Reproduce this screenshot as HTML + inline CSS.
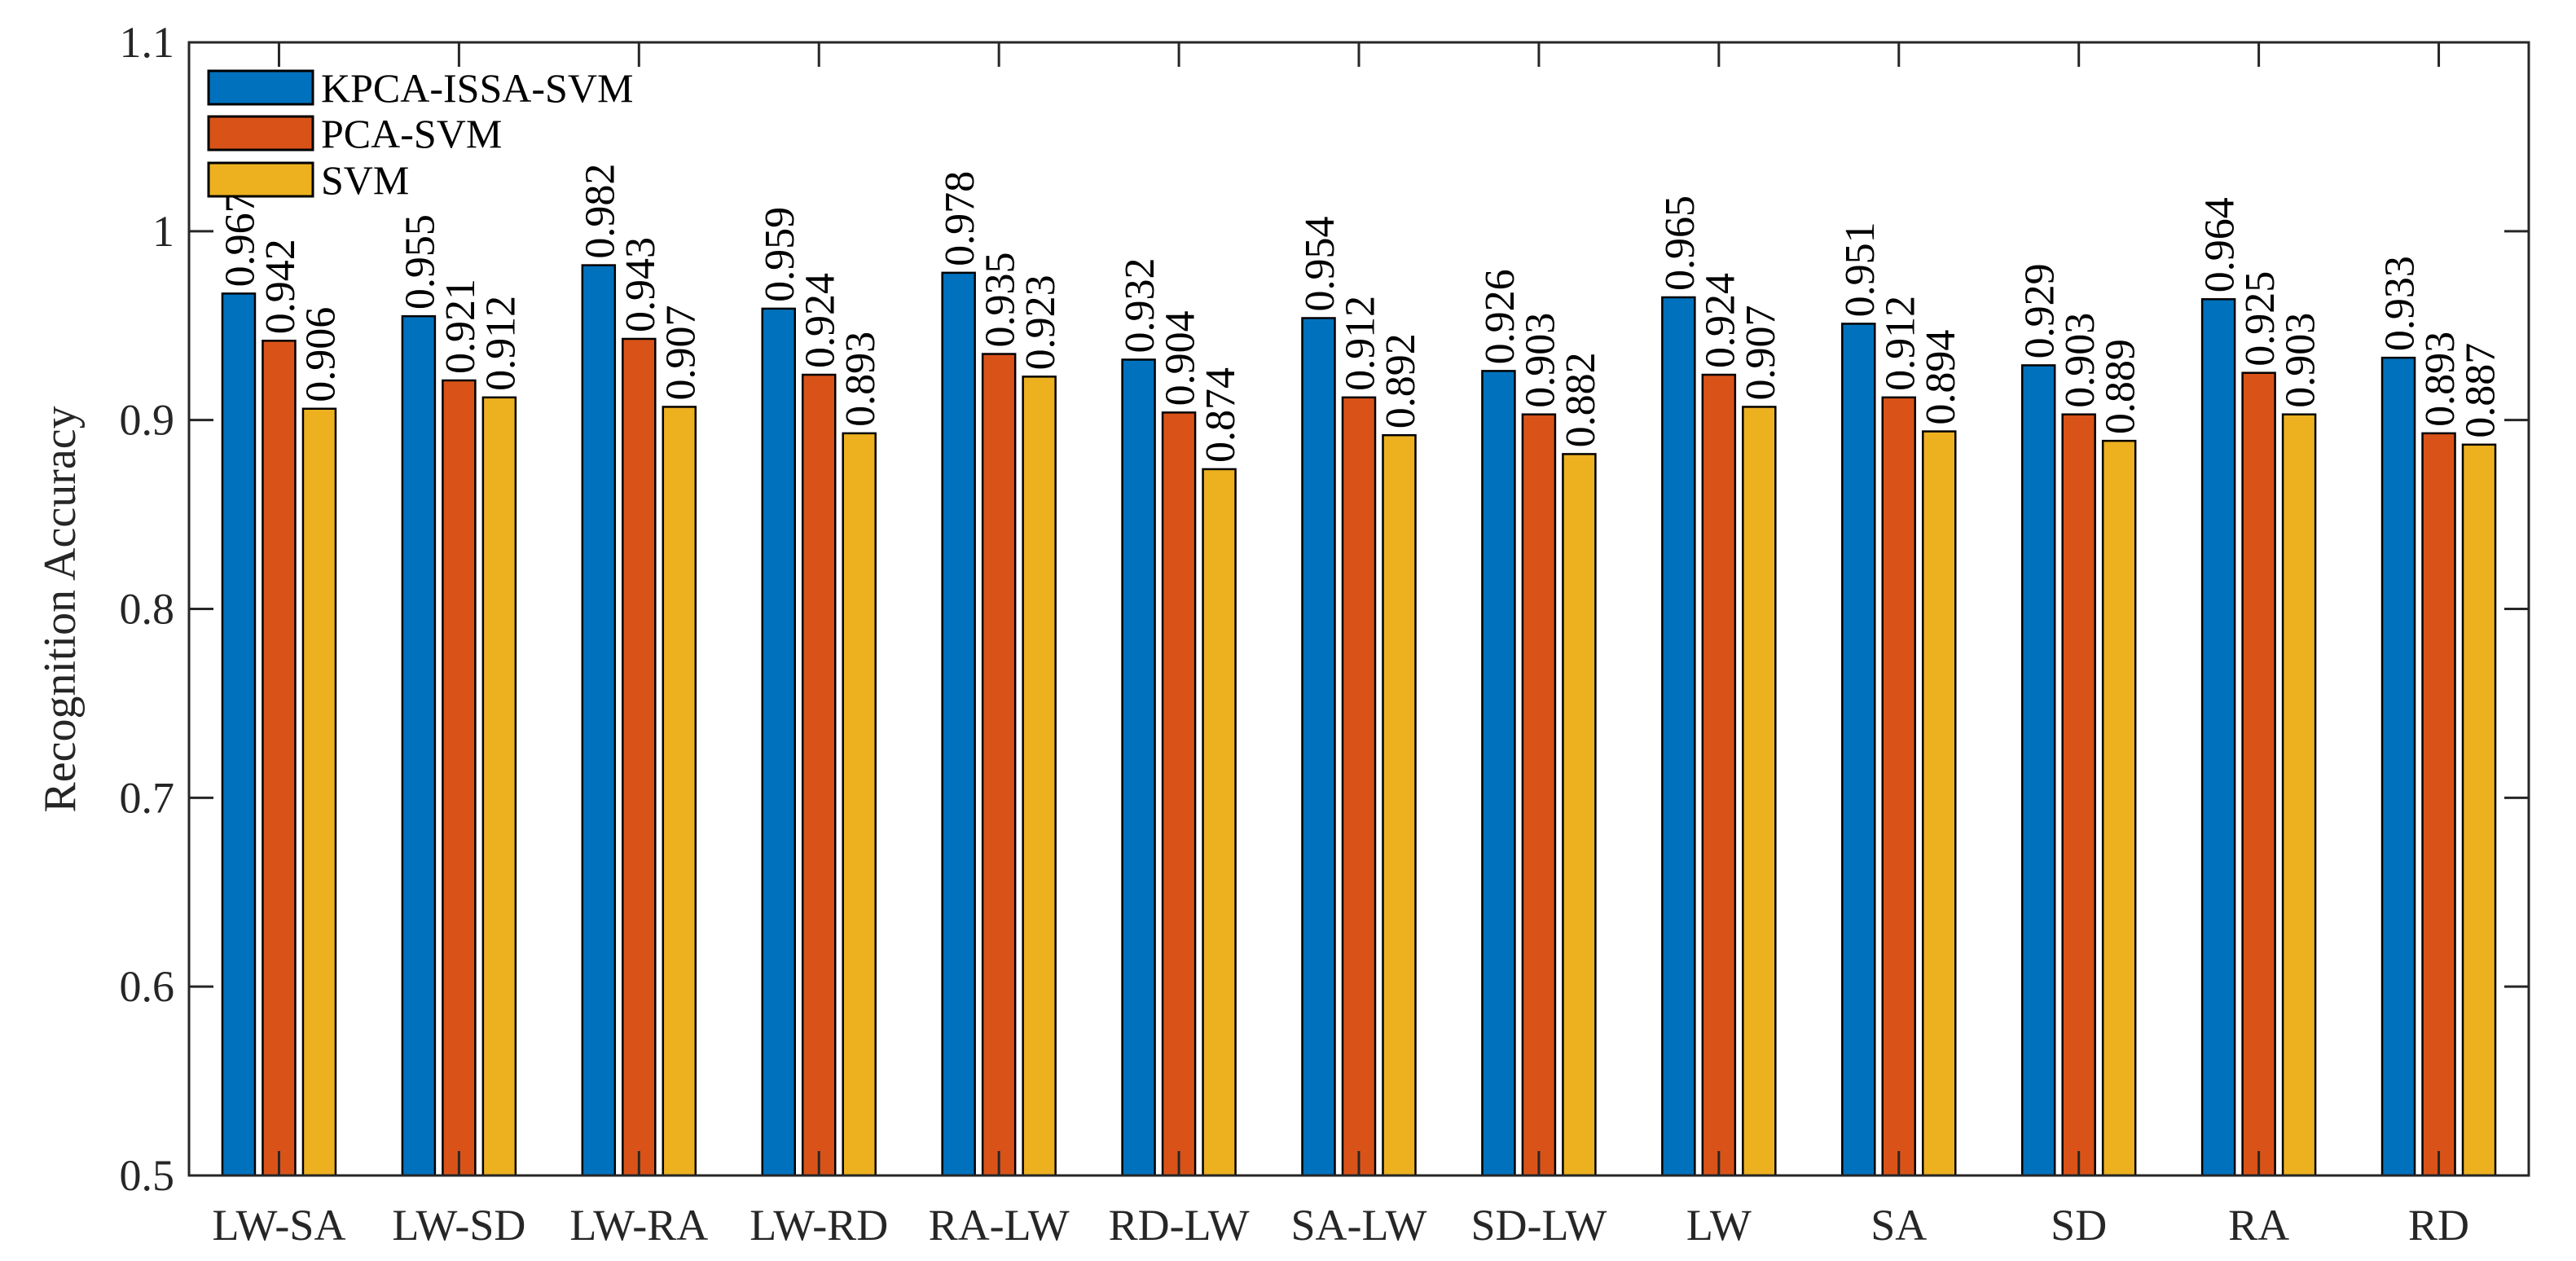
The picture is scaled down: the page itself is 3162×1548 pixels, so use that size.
<!DOCTYPE html>
<html><head><meta charset="utf-8"><style>
html,body{margin:0;padding:0;background:#fff;}
svg{display:block;}
text{font-family:"Liberation Serif","Times New Roman",serif;}
</style></head><body>
<svg id="chart" width="3162" height="1548" viewBox="0 0 3162 1548" xmlns="http://www.w3.org/2000/svg" font-family="Liberation Serif, serif">
<rect x="0" y="0" width="3162" height="1548" fill="#fff"/>
<g id="bars"></g>
<g id="labels"></g>
<g id="axes"></g>
<g id="legend"></g>
</svg>
<script>
const categories = ["LW-SA","LW-SD","LW-RA","LW-RD","RA-LW","RD-LW","SA-LW","SD-LW","LW","SA","SD","RA","RD"];
const kpcaIssaSvm = [0.967,0.955,0.982,0.959,0.978,0.932,0.954,0.926,0.965,0.951,0.929,0.964,0.933];
const pcaSvm = [0.942,0.921,0.943,0.924,0.935,0.904,0.912,0.903,0.924,0.912,0.903,0.925,0.893];
const svmOnly = [0.906,0.912,0.907,0.893,0.923,0.874,0.892,0.882,0.907,0.894,0.889,0.903,0.887];
const seriesNames = ["KPCA-ISSA-SVM","PCA-SVM","SVM"];
const yTicks = [0.5,0.6,0.7,0.8,0.9,1,1.1];
const yTickLabels = ["0.5","0.6","0.7","0.8","0.9","1","1.1"];

const NS="http://www.w3.org/2000/svg";
const L=232,R=3104,T=52,B=1443;
const yMin=0.5,yMax=1.1;
const y=v=>B-(v-yMin)/(yMax-yMin)*(B-T);
const unit=(R-L)/categories.length;
const x=i=>L+(i+0.5)*unit;
const colors=["#0072BD","#D95319","#EDB120"];
const series=[kpcaIssaSvm,pcaSvm,svmOnly];
const pitch=0.224*unit, bw=40;
const FF="Liberation Serif, Times New Roman, serif";
function mk(tag,attrs,parent){const e=document.createElementNS(NS,tag);for(const k in attrs)e.setAttribute(k,attrs[k]);parent.appendChild(e);return e;}
const gb=document.getElementById('bars'),gl=document.getElementById('labels'),ga=document.getElementById('axes'),gg=document.getElementById('legend');

series.forEach((s,si)=>{
  s.forEach((v,i)=>{
    const cx=x(i)+(si-1)*pitch;
    const r=mk('rect',{x:cx-bw/2,y:y(v),width:bw,height:B-y(v),fill:colors[si],stroke:"#000","stroke-width":2.5},gb);
    
    
    const t=mk('text',{x:0,y:0,transform:`translate(${cx+2},${y(v)-8}) rotate(-90)`,"font-size":52,"font-family":FF,"dominant-baseline":"central",fill:"#000"},gl);
    t.textContent=v.toFixed(3);
    
    
  });
});

const box=mk('rect',{x:L,y:T,width:R-L,height:B-T,fill:"none",stroke:"#262626","stroke-width":3},ga);


const tl=30;
yTicks.forEach((v,i)=>{
  mk('line',{x1:L,x2:L+tl,y1:y(v),y2:y(v),stroke:"#262626","stroke-width":3},ga);
  mk('line',{x1:R,x2:R-tl,y1:y(v),y2:y(v),stroke:"#262626","stroke-width":3},ga);
  const t=mk('text',{x:L-18,y:y(v)+18,"font-size":54,"font-family":FF,"text-anchor":"end",fill:"#262626"},ga);
  t.textContent=yTickLabels[i];
  
  
});
categories.forEach((c,i)=>{
  mk('line',{x1:x(i),x2:x(i),y1:B,y2:B-tl,stroke:"#262626","stroke-width":3},ga);
  mk('line',{x1:x(i),x2:x(i),y1:T,y2:T+tl,stroke:"#262626","stroke-width":3},ga);
  const t=mk('text',{x:x(i),y:1522,"font-size":54,"font-family":FF,"text-anchor":"middle",fill:"#262626"},ga);
  t.textContent=c;
  
  
});
const yt=mk('text',{x:0,y:0,transform:"translate(92,748) rotate(-90)","font-size":56,"font-family":FF,"text-anchor":"middle",fill:"#262626"},ga);
yt.textContent="Recognition Accuracy";



const ly=[87,143,200];
seriesNames.forEach((n,si)=>{
  const r=mk('rect',{x:256,y:ly[si],width:128,height:41,fill:colors[si],stroke:"#000","stroke-width":3},gg);
  
  
  const t=mk('text',{x:394,y:ly[si]+38,"font-size":50,"font-family":FF,fill:"#000"},gg);
  t.textContent=n;
  
  
});
</script>
</body></html>
